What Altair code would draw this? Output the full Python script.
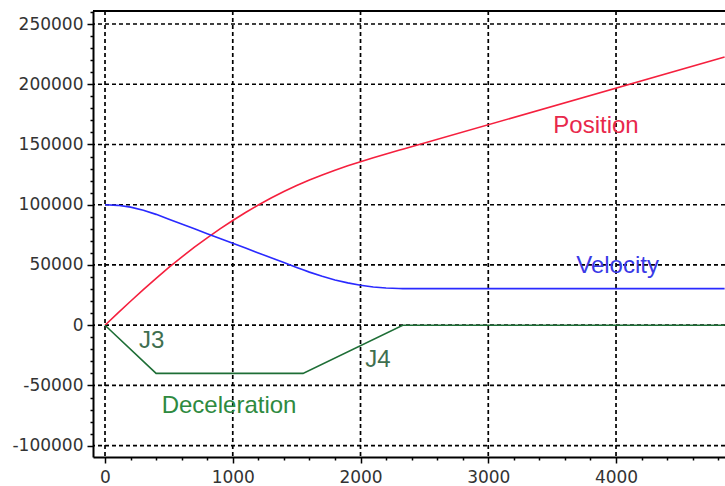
import altair as alt
import pandas as pd

# ---- data ----
time_ms = [0, 100, 200, 300, 400, 500, 600, 700, 800, 900, 1000, 1100, 1200, 1300, 1400, 1500,
           1550, 1600, 1700, 1800, 1900, 2000, 2100, 2200, 2300, 2330, 4850]
position = [0, 9983, 19867, 29550, 38933, 47933, 56533, 64733, 72533, 79933, 86933, 93533,
            99733, 105533, 110933, 115933, 118283, 120534, 124762, 128667, 132299, 135712,
            138955, 142080, 145139, 146051, 222659]
velocity = [100000, 99500, 98000, 95500, 92000, 88000, 84000, 80000, 76000, 72000, 68000, 64000,
            60000, 56000, 52000, 48000, 46000, 44064, 40577, 37603, 35141, 33192, 31756, 30833,
            30423, 30400, 30400]
decel_time = [0, 400, 1550, 2330, 4850]
deceleration = [0, -40000, -40000, 0, 0]

series_names = ["Position", "Velocity", "Deceleration"]
series_colors = ["#f5203e", "#2a2aff", "#1e6e36"]

label_text = ["Position", "Velocity", "Deceleration", "J3", "J4"]
label_x = [3843, 4012, 971, 366, 2137]
label_y = [159360, 43160, -73040, -19090, -34860]
label_colors = ["#e8284c", "#3a3ae6", "#2e8a40", "#3f6f4f", "#3f6f4f"]

x_ticks = list(range(0, 4801, 200))
y_ticks = list(range(-100000, 260001, 10000))
x_grid = [0, 1000, 2000, 3000, 4000]
y_grid = [-100000, -50000, 0, 50000, 100000, 150000, 200000, 250000]

rows = []
for t, p, v in zip(time_ms, position, velocity):
    rows.append({"t": t, "v": p, "s": "Position"})
    rows.append({"t": t, "v": v, "s": "Velocity"})
for t, d in zip(decel_time, deceleration):
    rows.append({"t": t, "v": d, "s": "Deceleration"})
lines_df = pd.DataFrame(rows)
labels_df = pd.DataFrame({"t": label_x, "v": label_y, "label": label_text})

x_scale = alt.Scale(domain=[-94, 4853], nice=False, zero=False)
y_scale = alt.Scale(domain=[-109380, 260790], nice=False, zero=False)

x_axis = alt.Axis(
    values=x_ticks,
    labelExpr="datum.value % 1000 == 0 ? '' + datum.value : ''",
    labelOverlap=False,
    labelFlush=False,
    grid=False,
    tickSize={"condition": {"test": "datum.value % 1000 == 0", "value": 6}, "value": 3},
    title=None,
)
y_axis = alt.Axis(
    values=y_ticks,
    labelExpr="datum.value % 50000 == 0 ? '' + datum.value : ''",
    labelOverlap=False,
    labelFlush=False,
    grid=False,
    tickSize={"condition": {"test": "datum.value % 50000 == 0", "value": 6}, "value": 3},
    title=None,
)

grid_style = dict(color="#000000", strokeWidth=1.7, strokeDash=[4, 3])
vgrid = alt.Chart(pd.DataFrame({"t": x_grid})).mark_rule(**grid_style).encode(
    x=alt.X("t:Q", scale=x_scale, axis=x_axis)
)
hgrid = alt.Chart(pd.DataFrame({"v": y_grid})).mark_rule(**grid_style).encode(
    y=alt.Y("v:Q", scale=y_scale, axis=y_axis)
)

lines = alt.Chart(lines_df).mark_line(strokeWidth=1.6, clip=True).encode(
    x=alt.X("t:Q", scale=x_scale, axis=x_axis),
    y=alt.Y("v:Q", scale=y_scale, axis=y_axis),
    color=alt.Color("s:N", scale=alt.Scale(domain=series_names, range=series_colors), legend=None),
    detail="s:N",
)

labels = alt.Chart(labels_df).mark_text(
    font="Liberation Sans", fontSize=24, align="center", baseline="alphabetic"
).encode(
    x=alt.X("t:Q", scale=x_scale, axis=x_axis),
    y=alt.Y("v:Q", scale=y_scale, axis=y_axis),
    text="label:N",
    color=alt.Color("label:N", scale=alt.Scale(domain=label_text, range=label_colors), legend=None),
)

# top frame line of the plot area
top_border = alt.Chart(labels_df).mark_rule(color="#000000", strokeWidth=2).encode(
    x=alt.value(0), x2=alt.value(632), y=alt.value(0)
)

chart = alt.layer(vgrid, hgrid, lines, labels, top_border).resolve_scale(color="independent").properties(
    width=632,
    height=446,
    autosize=alt.AutoSizeParams(type="none"),
    padding={"left": 93, "top": 11, "right": 0, "bottom": 29},
    background="white",
).configure_view(stroke=None).configure_axis(
    domainColor="#000000",
    domainWidth=2,
    tickColor="#000000",
    tickWidth=1.5,
    labelFont="DejaVu Sans",
    labelFontSize=17,
    labelColor="#333333",
    labelPadding=4,
).configure_axisX(labelPadding=6)

chart.save("out.html", embed_options={"renderer": "svg", "actions": False})
